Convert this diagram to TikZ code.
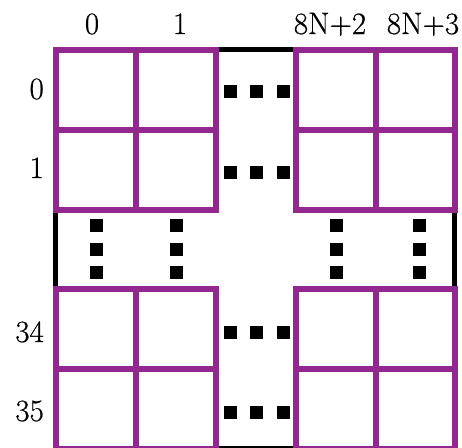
\documentclass[tikz,border=0pt]{standalone}
\usepackage{fontspec}
\usepackage{tikz}
\newfontfamily\lblfont[FakeBold=0.6]{Latin Modern Roman}
\definecolor{gridpurple}{RGB}{146,39,143}
\begin{document}
\begin{tikzpicture}[x=1pt,y=-1pt,
  pline/.style={draw=gridpurple,line width=6pt,line join=miter},
  bline/.style={draw=black,line width=5pt},
  dotsq/.style={fill=black,minimum size=13pt,inner sep=0pt,draw=none,rectangle},
  lbl/.style={font=\lblfont\fontsize{31}{35}\selectfont,inner sep=0pt}]
\useasboundingbox (0,0) rectangle (462,447);
% black border segments
\draw[bline] (215.5,49.5) -- (295.5,49.5);
\draw[bline] (215.5,448.5) -- (295.5,448.5);
\draw[bline] (55.5,209.5) -- (55.5,289);
\draw[bline] (454.5,209.5) -- (454.5,289);
% purple 2x2 blocks
\foreach \xa/\xb/\xc in {56/136/215.5, 295.5/375.5/454.5}{
  \foreach \ya/\yb/\yc in {49.5/129.5/209.5, 289/368.5/448.5}{
    \draw[pline] (\xa,\ya) rectangle (\xc,\yc);
    \draw[pline] (\xb,\ya) -- (\xb,\yc);
    \draw[pline] (\xa,\yb) -- (\xc,\yb);
  }
}
% horizontal dots
\foreach \yy [count=\i] in {91.5,172.5,332.5,412.5}{
  \foreach \xx [count=\j] in {230,256.5,283.5}{
    \node[dotsq] (h\i\j) at (\xx,\yy) {};
  }
}
% vertical dots
\foreach \xx [count=\i] in {96.5,176,336,419.5}{
  \foreach \yy [count=\j] in {225,249,272.5}{
    \node[dotsq] (v\i\j) at (\xx,\yy) {};
  }
}
% column labels
\node[lbl,anchor=base] (c0) at (92,34) {0};
\node[lbl,anchor=base] (c1) at (180,34) {1};
\node[lbl,anchor=base] (c2) at (330,34) {8N+2};
\node[lbl,anchor=base] (c3) at (423,34) {8N+3};
% row labels
\node[lbl,anchor=base east] (r0) at (44,99) {0};
\node[lbl,anchor=base east] (r1) at (44,178) {1};
\node[lbl,anchor=base east] (r34) at (44,342) {34};
\node[lbl,anchor=base east] (r35) at (44,421) {35};
\end{tikzpicture}
\end{document}
